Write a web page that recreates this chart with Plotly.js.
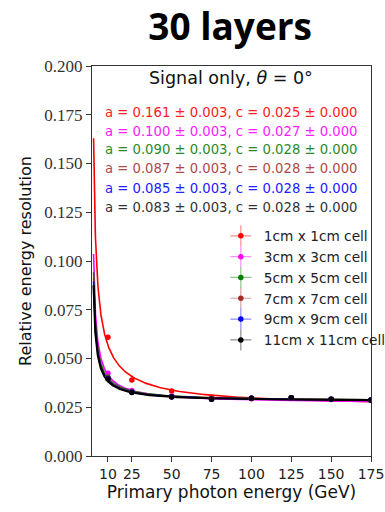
<!DOCTYPE html>
<html>
<head>
<meta charset="utf-8">
<script src="https://cdn.plot.ly/plotly-3.0.1.min.js"></script>
<style>html,body{margin:0;padding:0;background:#fff;}#chart{width:385px;height:512px;}</style>
</head>
<body>
<div id="chart"></div>
<script>
// Energies of the measured points (GeV)
const energies = [10, 25, 50, 75, 100, 125, 150, 175];
const seriesNames = ["1cm x 1cm cell", "3cm x 3cm cell", "5cm x 5cm cell", "7cm x 7cm cell", "9cm x 9cm cell", "11cm x 11cm cell"];
const seriesColors = ["#ff0000", "#ff00ff", "#008000", "#a52a2a", "#0000ff", "#000000"];
const textColors = ["#ff2020", "#ff20ff", "#2a8a2a", "#b04848", "#2020ff", "#333333"];
const res1 = [0.0609, 0.0390, 0.0333, 0.0300, 0.0294, 0.0297, 0.0290, 0.0286];
const res3 = [0.0424, 0.0336, 0.0308, 0.0294, 0.0296, 0.0298, 0.0291, 0.0287];
const res5 = [0.0405, 0.0329, 0.0305, 0.0292, 0.0296, 0.0299, 0.0291, 0.0287];
const res7 = [0.0401, 0.0328, 0.0304, 0.0292, 0.0296, 0.0299, 0.0291, 0.0287];
const res9 = [0.0398, 0.0327, 0.0304, 0.0291, 0.0296, 0.0299, 0.0291, 0.0287];
const res11 = [0.0395, 0.0326, 0.0303, 0.0291, 0.0296, 0.0299, 0.0291, 0.0287];
const resErr = [0.0006, 0.0004, 0.0003, 0.0003, 0.0003, 0.0003, 0.0003, 0.0003];
// Fit parameters: sigma/E = a/sqrt(E) (+) c
const fitA = [0.161, 0.100, 0.090, 0.087, 0.085, 0.083];
const fitAErr = [0.003, 0.003, 0.003, 0.003, 0.003, 0.003];
const fitC = [0.025, 0.027, 0.028, 0.028, 0.028, 0.028];
const fitCErr = [0.000, 0.000, 0.000, 0.000, 0.000, 0.000];
const fitRange = [1, 175];
const xTicks = [10, 25, 50, 75, 100, 125, 150, 175];
const yTicks = [0.000, 0.025, 0.050, 0.075, 0.100, 0.125, 0.150, 0.175, 0.200];

const allRes = [res1, res3, res5, res7, res9, res11];

const traces = [];
// fit curves
for (let i = 0; i < 6; i++) {
  const xs = [], ys = [];
  for (let e = fitRange[0]; e <= fitRange[1] + 1e-9; e += (e < 20 ? 0.1 : 1)) {
    xs.push(e);
    ys.push(Math.sqrt(fitA[i] * fitA[i] / e + fitC[i] * fitC[i]));
  }
  traces.push({x: xs, y: ys, mode: 'lines', line: {color: seriesColors[i], width: i === 5 ? 2.2 : 1.6},
    showlegend: false, hoverinfo: 'skip', cliponaxis: true});
}
// data points
for (let i = 0; i < 6; i++) {
  traces.push({x: energies, y: allRes[i], mode: 'markers', name: seriesNames[i],
    marker: {color: seriesColors[i], size: 5.5},
    error_y: {type: 'data', array: resErr, color: seriesColors[i], thickness: 1, width: 0, visible: true},
    error_x: {type: 'constant', value: 1.2, color: seriesColors[i], thickness: 1, width: 0, visible: true},
    showlegend: true, legend: 'legend'});
}
// legend crosses (error-bar look in legend)
for (let i = 0; i < 6; i++) {
  traces.push({x: [null], y: [null], mode: 'markers', name: seriesNames[i],
    marker: {symbol: 'cross-thin-open', size: 15, color: seriesColors[i], opacity: 0.45, line: {color: seriesColors[i], width: 1.2}},
    showlegend: true, legend: 'legend2', hoverinfo: 'skip'});
}

const annotations = [];
annotations.push({xref: 'paper', yref: 'paper', x: 0.497, y: 0.969, xanchor: 'center', yanchor: 'middle',
  text: 'Signal only, <i>θ</i> = 0°', showarrow: false, font: {family: 'DejaVu Sans', size: 17.5, color: '#111'}});
const lineY = [0.882, 0.833, 0.785, 0.736, 0.685, 0.636];
for (let i = 0; i < 6; i++) {
  annotations.push({xref: 'paper', yref: 'paper', x: 0.497, y: lineY[i], xanchor: 'center', yanchor: 'middle',
    text: 'a = ' + fitA[i].toFixed(3) + ' ± ' + fitAErr[i].toFixed(3) + ', c = ' + fitC[i].toFixed(3) + ' ± ' + fitCErr[i].toFixed(3),
    showarrow: false, font: {family: 'DejaVu Sans', size: 13.2, color: textColors[i]}});
}

const legendCommon = {x: 0.451, y: 0.604, xanchor: 'left', yanchor: 'top', bgcolor: 'rgba(0,0,0,0)', borderwidth: 0,
  traceorder: 'normal', itemclick: false, itemwidth: 36};

const layout = {
  width: 385, height: 512,
  margin: {l: 92, r: 14, t: 66, b: 56, autoexpand: false},
  paper_bgcolor: '#fff', plot_bgcolor: '#fff',
  title: {text: '<b>30 layers</b>', font: {family: 'Open Sans', size: 37, color: '#000'}, x: 0.495, xanchor: 'center', y: 0.947, yanchor: 'middle', xref: 'paper'},
  xaxis: {range: [0, 175], tickvals: xTicks, ticktext: xTicks.map(String), ticks: 'outside', ticklen: 5, tickcolor: '#333',
    showline: true, linecolor: '#333', linewidth: 1.2, mirror: true, showgrid: false, zeroline: false,
    tickfont: {family: 'DejaVu Sans', size: 14, color: '#222'},
    title: {text: 'Primary photon energy (GeV)', font: {family: 'DejaVu Sans', size: 17, color: '#111'}, standoff: 5}},
  yaxis: {range: [0, 0.2], tickvals: yTicks, ticktext: yTicks.map(v => v.toFixed(3)), ticks: 'outside', ticklen: 5, tickcolor: '#333',
    showline: true, linecolor: '#333', linewidth: 1.2, mirror: true, showgrid: false, zeroline: false,
    tickfont: {family: 'Liberation Serif', size: 17, color: '#333'},
    title: {text: 'Relative energy resolution', font: {family: 'DejaVu Sans', size: 16, color: '#111'}, standoff: 8}},
  legend: Object.assign({font: {family: 'DejaVu Sans', size: 13.7, color: '#222'}}, legendCommon),
  legend2: Object.assign({font: {family: 'DejaVu Sans', size: 13.7, color: 'rgba(0,0,0,0)'}}, legendCommon),
  annotations: annotations,
  showlegend: true
};

Plotly.newPlot('chart', traces, layout, {staticPlot: true, displayModeBar: false});
</script>
</body>
</html>
